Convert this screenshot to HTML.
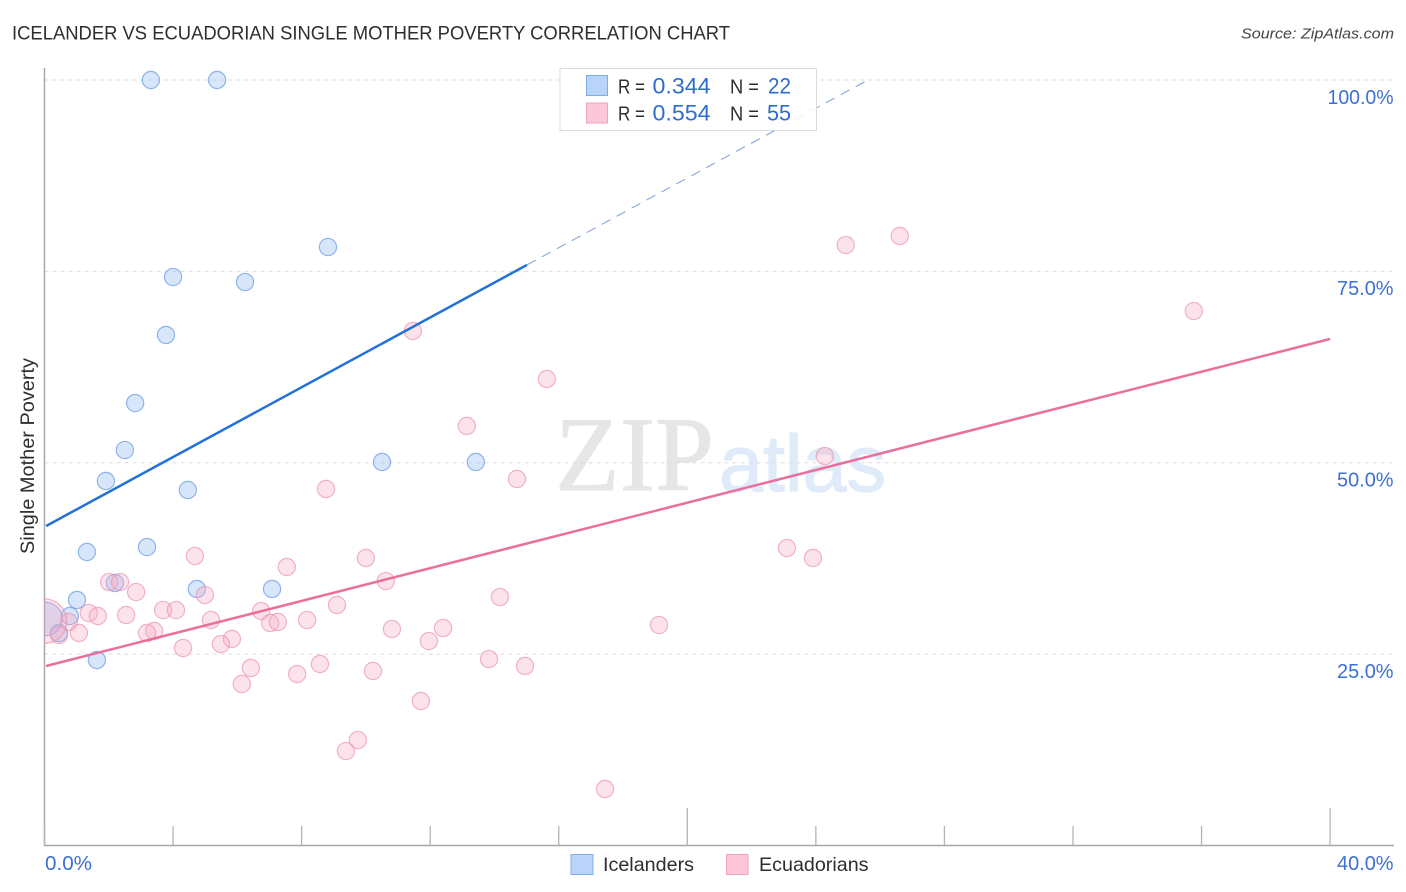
<!DOCTYPE html>
<html lang="en">
<head>
<meta charset="utf-8">
<title>Icelander vs Ecuadorian Single Mother Poverty Correlation Chart</title>
<style>
html,body{margin:0;padding:0;background:#fff;width:1406px;height:892px;overflow:hidden}
svg{display:block;font-family:"Liberation Sans",sans-serif}
</style>
</head>
<body>
<svg id="chart" width="1406" height="892" viewBox="0 0 1406 892" xmlns="http://www.w3.org/2000/svg">
  <defs><clipPath id="plot-clip"><rect x="44.5" y="60" width="1350" height="786"/></clipPath></defs>
  <text x="12" y="39.5" font-size="19" fill="#2e2e2e" textLength="718" lengthAdjust="spacingAndGlyphs">ICELANDER VS ECUADORIAN SINGLE MOTHER POVERTY CORRELATION CHART</text>
  <text x="1241" y="38.5" font-size="15" font-style="italic" fill="#444" textLength="153" lengthAdjust="spacingAndGlyphs">Source: ZipAtlas.com</text>
  <text x="555" y="490" font-size="106" font-family="'Liberation Serif',serif" fill="#e6e6e6" stroke="#e6e6e6" stroke-width="1" textLength="159" lengthAdjust="spacingAndGlyphs">ZIP</text>
  <text x="719" y="491" font-size="80" fill="#e0ebf9" stroke="#e0ebf9" stroke-width="1.2" textLength="167" lengthAdjust="spacingAndGlyphs">atlas</text>
  <g id="grid"></g>
  <g id="axes"></g>
  <g id="marks" clip-path="url(#plot-clip)"></g>
  <text transform="translate(34,554) rotate(-90)" font-size="19" fill="#2e2e2e" textLength="196" lengthAdjust="spacingAndGlyphs">Single Mother Poverty</text>

  <g>
    <rect x="560" y="68.5" width="256.5" height="62" fill="#fff" fill-opacity="0.88" stroke="#dcdcdc" stroke-width="1"/>
    <rect x="586.5" y="75.5" width="21" height="20" fill="#b9d4f8" stroke="#7fabe6"/>
    <text x="618" y="93.5" font-size="20" fill="#2e2e2e" textLength="27" lengthAdjust="spacingAndGlyphs">R =</text>
    <text x="652.5" y="93.5" font-size="22" fill="#2f6cd0" textLength="58" lengthAdjust="spacingAndGlyphs">0.344</text>
    <text x="730" y="93.5" font-size="20" fill="#2e2e2e" textLength="29" lengthAdjust="spacingAndGlyphs">N =</text>
    <text x="768" y="93.5" font-size="22" fill="#2f6cd0" textLength="23" lengthAdjust="spacingAndGlyphs">22</text>
    <rect x="586.5" y="103" width="21" height="20" fill="#fcc7d9" stroke="#eea3bb"/>
    <text x="618" y="120.5" font-size="20" fill="#2e2e2e" textLength="27" lengthAdjust="spacingAndGlyphs">R =</text>
    <text x="652.5" y="120.5" font-size="22" fill="#2f6cd0" textLength="58" lengthAdjust="spacingAndGlyphs">0.554</text>
    <text x="730" y="120.5" font-size="20" fill="#2e2e2e" textLength="29" lengthAdjust="spacingAndGlyphs">N =</text>
    <text x="767" y="120.5" font-size="22" fill="#2f6cd0" textLength="24" lengthAdjust="spacingAndGlyphs">55</text>
  </g>

  <g>
    <rect x="571" y="854.5" width="22" height="20" fill="#b9d4f8" stroke="#7fabe6"/>
    <text x="603" y="871" font-size="19.5" fill="#2e2e2e" textLength="91" lengthAdjust="spacingAndGlyphs">Icelanders</text>
    <rect x="726.5" y="854.5" width="21.5" height="20" fill="#fcc7d9" stroke="#eea3bb"/>
    <text x="759" y="871" font-size="19.5" fill="#2e2e2e" textLength="109.5" lengthAdjust="spacingAndGlyphs">Ecuadorians</text>
  </g>
</svg>
<script>
var xTickValues = [0, 4, 8, 12, 16, 20, 24, 28, 32, 36, 40];
var xMajorTicks = [20, 40];
var xLabelValues = [0, 40];
var xTickLabels = ['0.0%', '40.0%'];
var yTickValues = [25, 50, 75, 100];
var yTickLabels = ['25.0%', '50.0%', '75.0%', '100.0%'];

var icelanderX = [3.31, 5.37, 8.82, 4.0, 6.24, 3.78, 2.82, 2.50, 1.91, 4.46, 10.50, 13.42, 3.19, 1.32, 2.19, 4.74, 7.08, 1.01, 0.79, 0.45, 1.63, 0.03];
var icelanderY = [100, 100, 78.18, 74.26, 73.61, 66.69, 57.80, 51.66, 47.62, 46.44, 50.10, 50.10, 38.99, 38.34, 34.29, 33.51, 33.51, 32.07, 29.98, 27.76, 24.23, 29.59];
var icelanderWeight = [1, 1, 1, 1, 1, 1, 1, 1, 1, 1, 1, 1, 1, 1, 1, 1, 1, 1, 1, 1, 1, 3.77];

var ecuadorianX = [26.61, 24.93, 35.76, 11.46, 15.63, 13.14, 24.28, 14.70, 8.76, 23.10, 23.91, 10.0, 4.68, 7.54, 10.62, 2.01, 2.35, 2.85, 4.99, 14.17, 9.10, 3.69, 4.09, 6.74, 1.38, 1.66, 2.54, 5.18, 8.17, 7.02, 7.26, 10.81, 12.40, 19.12, 0.76, 3.41, 3.19, 1.07, 0.45, 5.83, 5.49, 11.96, 4.31, 13.83, 8.57, 14.95, 6.42, 10.22, 7.86, 6.14, 11.71, 9.75, 9.38, 17.44, 0];
var ecuadorianY = [79.62, 78.44, 69.82, 67.21, 60.94, 54.80, 50.88, 47.88, 46.57, 38.86, 37.56, 37.56, 37.82, 36.38, 34.55, 34.42, 34.42, 33.11, 32.72, 32.46, 31.42, 30.76, 30.76, 30.63, 30.37, 29.98, 30.11, 29.46, 29.46, 29.07, 29.20, 28.28, 28.41, 28.80, 29.20, 28.02, 27.76, 27.76, 27.50, 26.98, 26.32, 26.71, 25.80, 24.36, 23.71, 23.45, 23.19, 22.80, 22.40, 21.10, 18.88, 13.78, 12.34, 7.38, 29.3];
var ecuadorianWeight = [1, 1, 1, 1, 1, 1, 1, 1, 1, 1, 1, 1, 1, 1, 1, 1, 1, 1, 1, 1, 1, 1, 1, 1, 1, 1, 1, 1, 1, 1, 1, 1, 1, 1, 1, 1, 1, 1, 1, 1, 1, 1, 1, 1, 1, 1, 1, 1, 1, 1, 1, 1, 1, 1, 6.7];

var icelanderTrendX = [0.05, 15.01];
var icelanderTrendY = [41.74, 75.84];
var icelanderExtensionX = [15.01, 25.62];
var icelanderExtensionY = [75.84, 100];
var ecuadorianTrendX = [0.05, 40];
var ecuadorianTrendY = [23.45, 66.17];

var NS = 'http://www.w3.org/2000/svg';
function sx(v) { return 44.5 + v * 32.14; }
function sy(v) { return 845.5 - v * 7.655; }
function sr(w) { return 8.6 * Math.sqrt(w); }
function labelWidth(s) { return 9.5 * s.length + 9; }
function make(tag, attrs, parent) {
  var el = document.createElementNS(NS, tag);
  for (var k in attrs) { el.setAttribute(k, attrs[k]); }
  parent.appendChild(el);
  return el;
}
var grid = document.getElementById('grid');
var axes = document.getElementById('axes');
var marks = document.getElementById('marks');

yTickValues.forEach(function (v, i) {
  var line = make('line', { x1: 44.5, x2: 1393, y1: sy(v), y2: sy(v), stroke: '#dddddd', 'stroke-width': 1, 'stroke-dasharray': '4 4' }, grid);
  
  
  var w = labelWidth(yTickLabels[i]);
  var label = make('text', { x: 1393.5 - w, y: sy(v) + 23.8, 'font-size': 20, fill: '#3b70d4', textLength: w, lengthAdjust: 'spacingAndGlyphs' }, axes);
  label.textContent = yTickLabels[i];
  
  
});

var yAxisLine = make('line', { x1: 44.5, x2: 44.5, y1: 68, y2: 846, stroke: '#a8a8a8', 'stroke-width': 1.5 }, axes);


var xAxisLine = make('line', { x1: 44, x2: 1394, y1: 845.5, y2: 845.5, stroke: '#a8a8a8', 'stroke-width': 1.5 }, axes);



xTickValues.forEach(function (v) {
  var major = xMajorTicks.indexOf(v) >= 0;
  var tick = make('line', { x1: sx(v), x2: sx(v), y1: major ? 808 : 826, y2: 845, stroke: '#b4b4b4', 'stroke-width': 1.3 }, axes);
  
  
});
xLabelValues.forEach(function (v, i) {
  var w = labelWidth(xTickLabels[i]);
  var label = make('text', { x: i === 0 ? sx(v) + 0.5 : 1393.5 - w, y: 870, 'font-size': 20, fill: '#3b70d4', textLength: w, lengthAdjust: 'spacingAndGlyphs' }, axes);
  label.textContent = xTickLabels[i];
  
  
});

icelanderX.forEach(function (v, i) {
  var c = make('circle', { cx: sx(v), cy: sy(icelanderY[i]), r: sr(icelanderWeight[i]), fill: '#8fb9f2', 'fill-opacity': 0.36, stroke: '#6f9fe4', 'stroke-opacity': 0.75, 'stroke-width': 1.2 }, marks);
  
  
});
ecuadorianX.forEach(function (v, i) {
  var c = make('circle', { cx: sx(v), cy: sy(ecuadorianY[i]), r: sr(ecuadorianWeight[i]), fill: '#f7a9c4', 'fill-opacity': 0.34, stroke: '#e88fae', 'stroke-opacity': 0.65, 'stroke-width': 1.2 }, marks);
  
  
});

var ext = make('line', { x1: sx(icelanderExtensionX[0]), y1: sy(icelanderExtensionY[0]), x2: sx(icelanderExtensionX[1]), y2: sy(icelanderExtensionY[1]), stroke: '#7d9fdb', 'stroke-width': 1, 'stroke-dasharray': '10 7' }, marks);


var t1 = make('line', { x1: sx(icelanderTrendX[0]), y1: sy(icelanderTrendY[0]), x2: sx(icelanderTrendX[1]), y2: sy(icelanderTrendY[1]), stroke: '#2272d9', 'stroke-width': 2.5 }, marks);


var t2 = make('line', { x1: sx(ecuadorianTrendX[0]), y1: sy(ecuadorianTrendY[0]), x2: sx(ecuadorianTrendX[1]), y2: sy(ecuadorianTrendY[1]), stroke: '#e96f9e', 'stroke-width': 2.5 }, marks);


</script>
</body>
</html>
